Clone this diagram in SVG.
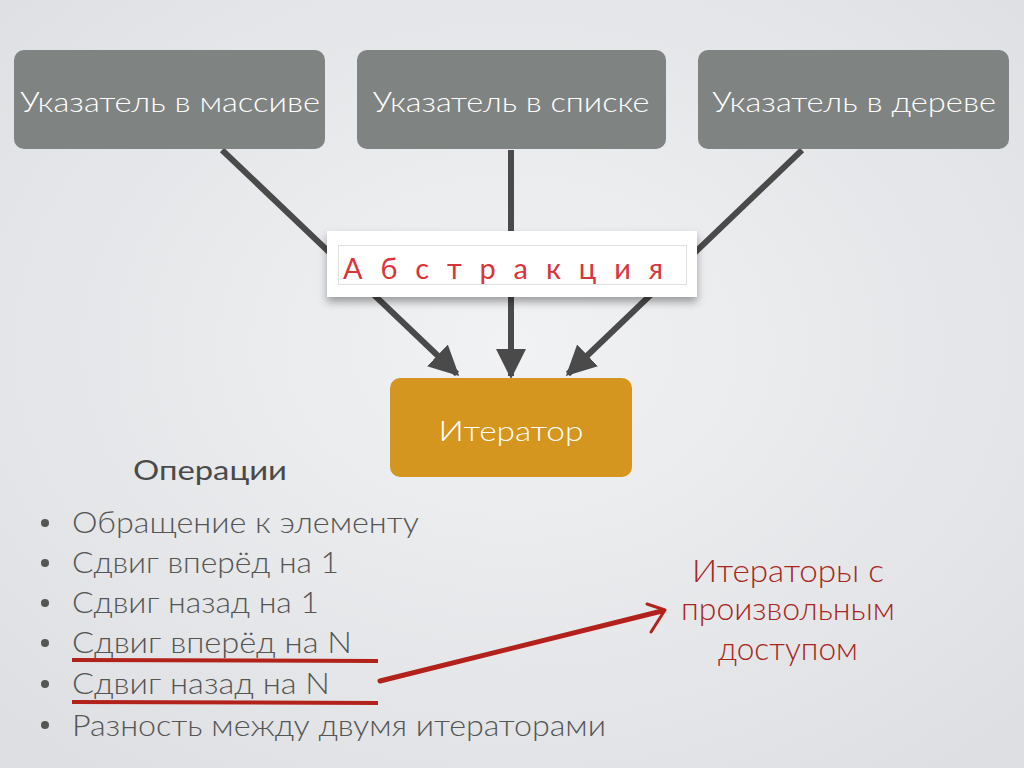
<svg xmlns="http://www.w3.org/2000/svg" width="1024" height="768" viewBox="0 0 1024 768">
<defs>
<radialGradient id="bg" cx="50%" cy="45%" r="75%">
<stop offset="0" stop-color="#f1f2f4"/>
<stop offset="1" stop-color="#dcdee1"/>
</radialGradient>
<filter id="sh" x="-10%" y="-30%" width="120%" height="170%">
<feDropShadow dx="0" dy="5" stdDeviation="4" flood-color="#000" flood-opacity="0.35"/>
</filter>
<marker id="ah" viewBox="0 0 10 10" refX="9" refY="5" markerWidth="5" markerHeight="5" orient="auto" markerUnits="strokeWidth">
<path d="M0,0 L10,5 L0,10 Z" fill="#4a4a4a"/>
</marker>
<style>
.box{fill:#7f8482}
.bt{font-family:Lato,"Open Sans",sans-serif;font-size:28px;fill:#fff;text-anchor:middle;font-weight:300}
.con{stroke:#4a4a4a;stroke-width:6;fill:none}
.li{font-family:Lato,"Open Sans",sans-serif;font-size:29px;fill:#555;font-weight:300}
.red{font-family:Lato,"Open Sans",sans-serif;font-size:31px;fill:#a8261b;text-anchor:middle;font-weight:300}
.ul{stroke:#b3221a;stroke-width:4;fill:none}
</style>
</defs>
<rect width="1024" height="768" fill="url(#bg)"/>
<g id="connectors">
<line class="con" x1="222" y1="150" x2="457" y2="374" marker-end="url(#ah)"/>
<line class="con" x1="511" y1="150" x2="511" y2="376" marker-end="url(#ah)"/>
<line class="con" x1="802" y1="150" x2="568" y2="374" marker-end="url(#ah)"/>
</g>
<g id="box-array">
<rect class="box" x="14" y="50" width="311" height="99" rx="10"/>
<text class="bt" x="170" y="112" textLength="300" lengthAdjust="spacingAndGlyphs">Указатель в массиве</text>
</g>
<g id="box-list">
<rect class="box" x="357" y="50" width="309" height="99" rx="10"/>
<text class="bt" x="511" y="112" textLength="277" lengthAdjust="spacingAndGlyphs">Указатель в списке</text>
</g>
<g id="box-tree">
<rect class="box" x="698" y="50" width="311" height="99" rx="10"/>
<text class="bt" x="854" y="112" textLength="284" lengthAdjust="spacingAndGlyphs">Указатель в дереве</text>
</g>
<g id="abstraction">
<rect x="327" y="231" width="370" height="66" fill="#fff" filter="url(#sh)"/>
<rect x="338.5" y="245.5" width="348" height="39" fill="#fff" stroke="#e0e0e0" stroke-width="1"/>
<text x="343" y="279" font-family="Lato,'Open Sans',sans-serif" font-size="29" fill="#d9343a" textLength="320" lengthAdjust="spacing">А б с т р а к ц и я</text>
</g>
<g id="iterator">
<rect x="390" y="378" width="242" height="99" rx="10" fill="#d4961e"/>
<text class="bt" x="511" y="441" textLength="145" lengthAdjust="spacingAndGlyphs">Итератор</text>
</g>
<g id="operations">
<text x="133" y="480" font-family="Lato,'Open Sans',sans-serif" font-size="27" fill="#4a4a4a" textLength="154" lengthAdjust="spacingAndGlyphs">Операции</text>
<g fill="#555">
<circle cx="45" cy="523" r="4"/>
<circle cx="45" cy="563" r="4"/>
<circle cx="45" cy="603" r="4"/>
<circle cx="45" cy="643" r="4"/>
<circle cx="45" cy="684" r="4"/>
<circle cx="45" cy="725" r="4"/>
</g>
<text class="li" x="72" y="533" textLength="347" lengthAdjust="spacingAndGlyphs">Обращение к элементу</text>
<text class="li" x="72" y="573" textLength="267" lengthAdjust="spacingAndGlyphs">Сдвиг вперёд на 1</text>
<text class="li" x="72" y="613" textLength="247" lengthAdjust="spacingAndGlyphs">Сдвиг назад на 1</text>
<text class="li" x="72" y="653" textLength="280" lengthAdjust="spacingAndGlyphs">Сдвиг вперёд на N</text>
<text class="li" x="72" y="694" textLength="258" lengthAdjust="spacingAndGlyphs">Сдвиг назад на N</text>
<text class="li" x="72" y="736" textLength="534" lengthAdjust="spacingAndGlyphs">Разность между двумя итераторами</text>
<path class="ul" d="M72,660 L378,661"/>
<path class="ul" d="M72,702 L378,703"/>
</g>
<g id="random-access">
<path d="M380,681 L662,611" stroke="#b3221a" stroke-width="5" fill="none" stroke-linecap="round"/>
<path d="M647,604 L665,610 L651,632" stroke="#b3221a" stroke-width="3" fill="none" stroke-linecap="round" stroke-linejoin="round"/>
<text class="red" x="788" y="582" textLength="192" lengthAdjust="spacingAndGlyphs">Итераторы с</text>
<text class="red" x="788" y="620" textLength="214" lengthAdjust="spacingAndGlyphs">произвольным</text>
<text class="red" x="788" y="660" textLength="140" lengthAdjust="spacingAndGlyphs">доступом</text>
</g>
</svg>
